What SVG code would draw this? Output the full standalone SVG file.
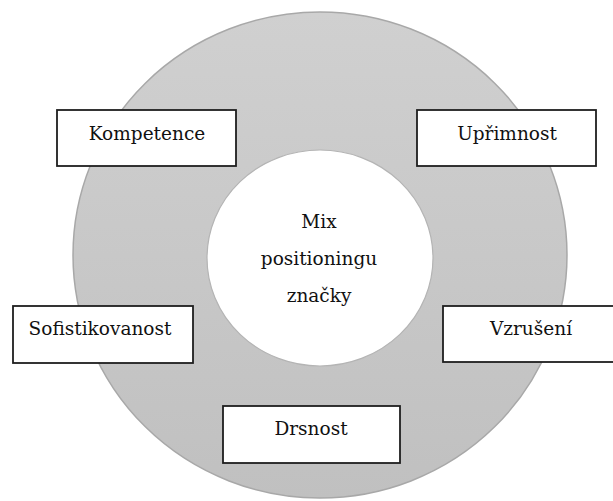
<svg xmlns="http://www.w3.org/2000/svg" width="613" height="501" viewBox="0 0 613 501">
  <defs>
    <linearGradient id="ring" x1="0" y1="0" x2="0" y2="1">
      <stop offset="0" stop-color="#d0d0d0"/>
      <stop offset="1" stop-color="#c0c0c0"/>
    </linearGradient>
  </defs>
  <style>
    .box { fill: #ffffff; stroke: #1e1e1e; stroke-width: 1.8; }
    .lbl { font-family: "DejaVu Serif", "Liberation Serif", serif; font-size: 18.5px; fill: #111111; text-anchor: middle; }
  </style>
  <rect x="0" y="0" width="613" height="501" fill="#ffffff"/>
  <g id="ring-bg">
    <ellipse cx="320" cy="255" rx="247" ry="243" fill="url(#ring)" stroke="#a8a8a8" stroke-width="1.5"/>
  </g>
  <g id="center">
    <ellipse cx="320" cy="258" rx="113" ry="108" fill="#ffffff" stroke="#b4b4b4" stroke-width="1.2"/>
    <text class="lbl" x="319" y="228">Mix</text>
    <text class="lbl" x="319" y="265">positioningu</text>
    <text class="lbl" x="319" y="302">značky</text>
  </g>
  <g id="connectors"></g>
  <g id="kompetence">
    <rect class="box" x="57" y="110" width="179" height="56"/>
    <text class="lbl" x="147" y="140">Kompetence</text>
  </g>
  <g id="uprimnost">
    <rect class="box" x="417" y="110" width="179" height="56"/>
    <text class="lbl" x="507" y="140">Upřimnost</text>
  </g>
  <g id="sofistikovanost">
    <rect class="box" x="13" y="306" width="180" height="57"/>
    <text class="lbl" x="100" y="335">Sofistikovanost</text>
  </g>
  <g id="vzruseni">
    <rect class="box" x="443" y="306" width="180" height="56"/>
    <text class="lbl" x="531" y="335">Vzrušení</text>
  </g>
  <g id="drsnost">
    <rect class="box" x="223" y="406" width="177" height="57"/>
    <text class="lbl" x="311" y="435">Drsnost</text>
  </g>
</svg>
